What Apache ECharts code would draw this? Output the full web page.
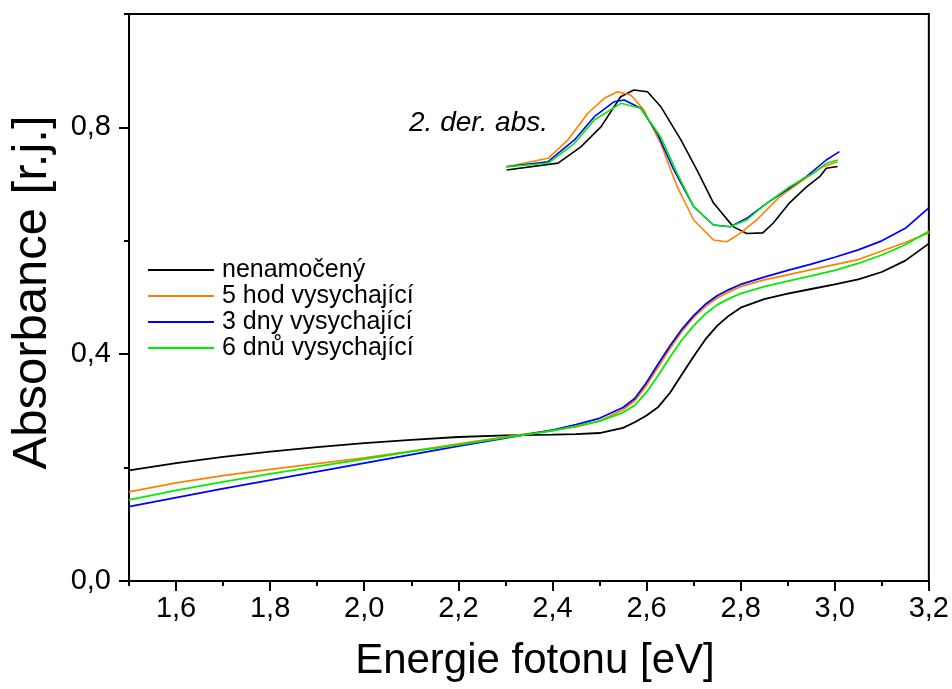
<!DOCTYPE html>
<html>
<head>
<meta charset="utf-8">
<script src="https://cdn.jsdelivr.net/npm/echarts@6/dist/echarts.min.js"></script>
<style>html,body{margin:0;padding:0;background:#fff;}#c{width:952px;height:689px;}</style>
</head>
<body>
<div id="c"></div>
<script>
// ---- Data ----
const seriesNames = ['nenamočený', '5 hod vysychající', '3 dny vysychající', '6 dnů vysychající'];
const seriesColors = ['#000000', '#ff8000', '#0000ff', '#00ee00'];

const energy = [1.50,1.60,1.70,1.80,1.90,2.00,2.10,2.20,2.30,2.40,2.45,2.50,2.55,2.575,2.60,2.625,2.65,2.675,2.70,2.725,2.75,2.775,2.80,2.85,2.90,2.95,3.00,3.05,3.10,3.15,3.20];
const absBlack  = [0.195,0.208,0.219,0.228,0.236,0.243,0.249,0.254,0.257,0.258,0.259,0.261,0.270,0.280,0.292,0.307,0.332,0.364,0.396,0.426,0.450,0.468,0.482,0.497,0.507,0.515,0.523,0.532,0.545,0.565,0.595];
const absOrange = [0.157,0.173,0.186,0.197,0.207,0.217,0.229,0.242,0.254,0.266,0.272,0.282,0.302,0.318,0.345,0.378,0.410,0.440,0.465,0.484,0.499,0.510,0.519,0.531,0.540,0.549,0.558,0.567,0.582,0.597,0.614];
const absBlue   = [0.131,0.147,0.163,0.178,0.193,0.208,0.223,0.238,0.252,0.266,0.276,0.287,0.306,0.322,0.350,0.383,0.415,0.444,0.468,0.488,0.503,0.514,0.523,0.536,0.548,0.559,0.571,0.584,0.600,0.622,0.658];
const absGreen  = [0.143,0.160,0.175,0.189,0.202,0.215,0.228,0.240,0.253,0.265,0.273,0.282,0.297,0.310,0.333,0.363,0.395,0.425,0.450,0.471,0.487,0.498,0.507,0.519,0.529,0.538,0.548,0.560,0.575,0.593,0.617];

// inset: 2nd derivative of absorbance (drawn in the same coordinates)
const derBlackX  = [2.3025,2.412,2.461,2.503,2.545,2.573,2.602,2.630,2.673,2.707,2.742,2.784,2.813,2.847,2.869,2.904,2.940,2.968,2.982,3.006];
const derBlackY  = [0.725,0.737,0.766,0.801,0.854,0.866,0.863,0.837,0.778,0.725,0.667,0.625,0.613,0.614,0.631,0.667,0.695,0.713,0.728,0.731];
const derOrangeX = [2.3025,2.3906,2.4328,2.4751,2.5101,2.5384,2.5665,2.5946,2.6299,2.6651,2.7002,2.7424,2.7707,2.7988,2.8341,2.8833,2.9325,2.9748,3.0064];
const derOrangeY = [0.7307,0.7455,0.7778,0.8249,0.8513,0.8630,0.8571,0.8307,0.7720,0.6954,0.6367,0.6014,0.5984,0.6132,0.6367,0.6778,0.7072,0.7307,0.7395];
const derBlueX   = [2.3025,2.3906,2.4468,2.489,2.5313,2.5524,2.5876,2.6229,2.658,2.7002,2.7424,2.7777,2.813,2.8552,2.8975,2.9397,2.9819,3.01];
const derBlueY   = [0.7307,0.7395,0.7778,0.8189,0.8453,0.8483,0.8337,0.7896,0.7249,0.6601,0.6279,0.6249,0.6397,0.6661,0.6896,0.7131,0.7425,0.7572];
const derGreenX  = [2.3025,2.3906,2.4468,2.489,2.5454,2.5876,2.6299,2.6651,2.7002,2.7424,2.7777,2.813,2.8552,2.9044,2.9537,2.9819,3.0064];
const derGreenY  = [0.7307,0.7367,0.7720,0.8131,0.8425,0.8337,0.7836,0.7190,0.6601,0.6279,0.6249,0.6367,0.6661,0.6954,0.7190,0.7367,0.7425];

const xMajorTicks = [1.6,1.8,2.0,2.2,2.4,2.6,2.8,3.0,3.2];
const yMajorTicks = [0.0,0.4,0.8];

// ---- Build ----
const zip = (xs, ys) => xs.map((x, i) => [x, ys[i]]);
const fmt = v => v.toFixed(1).replace('.', ',');
const FONT = 'Liberation Sans';

const mainY = [absBlack, absOrange, absBlue, absGreen];
const derX = [derBlackX, derOrangeX, derBlueX, derGreenX];
const derY = [derBlackY, derOrangeY, derBlueY, derGreenY];

const series = [];
mainY.forEach((ys, i) => series.push({
  name: seriesNames[i], type: 'line', data: zip(energy, ys),
  showSymbol: false, symbol: 'none', color: seriesColors[i],
  lineStyle: { width: 1.8, color: seriesColors[i] }, z: 3
}));
derX.forEach((xs, i) => series.push({
  name: 'der_' + i, type: 'line', data: zip(xs, derY[i]),
  showSymbol: false, symbol: 'none', color: seriesColors[i],
  lineStyle: { width: 1.6, color: seriesColors[i] }, z: 3
}));

const axisLineStyle = { show: true, lineStyle: { color: '#000', width: 2 } };
const chart = echarts.init(document.getElementById('c'), null, { renderer: 'canvas' });
chart.setOption({
  animation: false,
  backgroundColor: '#fff',
  grid: { left: 125, right: 22, top: 14, bottom: 108, show: true, borderColor: '#000', borderWidth: 2, containLabel: false },
  legend: {
    data: seriesNames, orient: 'vertical', left: 143, top: 252,
    itemWidth: 66, itemHeight: 14, itemGap: 0,
    icon: 'path://M0,6 L66,6 L66,8 L0,8 Z',
    textStyle: { fontFamily: FONT, fontSize: 25, color: '#000', lineHeight: 26, padding: [0, 0, 0, 3] }
  },
  xAxis: [
    { type: 'value', min: 1.5, max: 3.2, interval: 0.1, position: 'bottom',
      axisLine: axisLineStyle, axisTick: { show: true, length: 5, lineStyle: { color: '#000', width: 2 } },
      axisLabel: { show: false }, splitLine: { show: false },
      name: 'Energie fotonu [eV]', nameLocation: 'middle', nameGap: 59,
      nameTextStyle: { fontFamily: FONT, fontSize: 42, color: '#000', padding: [0, 0, 0, 12] } },
    { type: 'value', min: 1.5, max: 3.2, interval: 0.1, position: 'bottom',
      axisLine: { show: false },
      axisTick: { show: true, length: 10, customValues: xMajorTicks, lineStyle: { color: '#000', width: 2 } },
      axisLabel: { show: true, customValues: xMajorTicks, formatter: fmt, margin: 13,
        fontFamily: FONT, fontSize: 29, color: '#000' },
      splitLine: { show: false } }
  ],
  yAxis: [
    { type: 'value', min: 0, max: 1, interval: 0.2, position: 'left',
      axisLine: axisLineStyle, axisTick: { show: true, length: 5, lineStyle: { color: '#000', width: 2 } },
      axisLabel: { show: false }, splitLine: { show: false },
      name: 'Absorbance [r.j.]', nameLocation: 'middle', nameGap: 72, nameRotate: 90,
      nameTextStyle: { fontFamily: FONT, fontSize: 49, color: '#000', padding: [0, 0, 0, 10] } },
    { type: 'value', min: 0, max: 1, interval: 0.2, position: 'left',
      axisLine: { show: false },
      axisTick: { show: true, length: 10, customValues: yMajorTicks, lineStyle: { color: '#000', width: 2 } },
      axisLabel: { show: true, customValues: yMajorTicks, formatter: fmt, margin: 18,
        fontFamily: FONT, fontSize: 29, color: '#000' },
      splitLine: { show: false } }
  ],
  graphic: [
    { type: 'text', left: 409, top: 109, z: 10,
      style: { text: '2. der. abs.', font: 'italic 28px "Liberation Sans"', fill: '#000' } }
  ],
  series: series
});
</script>
</body>
</html>
